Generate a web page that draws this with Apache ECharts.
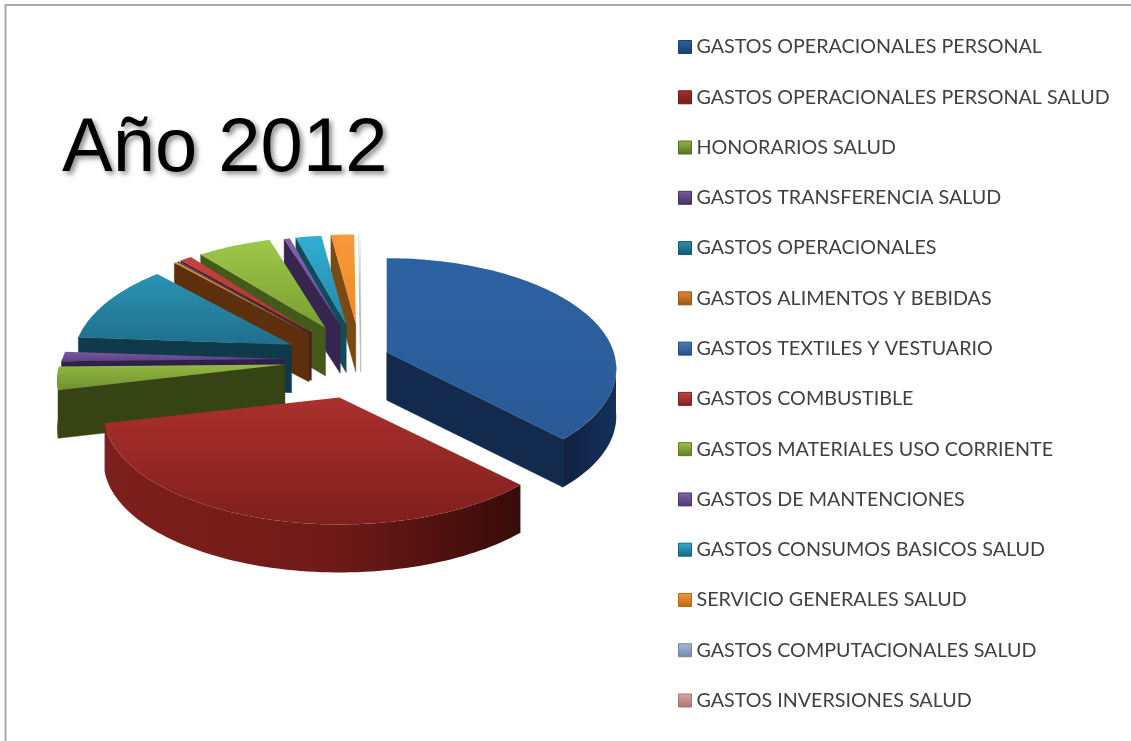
<!DOCTYPE html>
<html><head><meta charset="utf-8">
<style>html,body{margin:0;padding:0;background:#fff}#c{width:1131px;height:741px}</style>
<script src="https://cdn.jsdelivr.net/npm/echarts@6/dist/echarts.min.js"></script>
</head><body><div id="c"></div>
<script>
const categories = ['GASTOS OPERACIONALES PERSONAL','GASTOS OPERACIONALES PERSONAL SALUD','HONORARIOS SALUD','GASTOS TRANSFERENCIA SALUD','GASTOS OPERACIONALES','GASTOS ALIMENTOS Y BEBIDAS','GASTOS TEXTILES Y VESTUARIO','GASTOS COMBUSTIBLE','GASTOS MATERIALES USO CORRIENTE','GASTOS DE MANTENCIONES','GASTOS CONSUMOS BASICOS SALUD','SERVICIO GENERALES SALUD','GASTOS COMPUTACIONALES SALUD','GASTOS INVERSIONES SALUD'];
const values = [37.8,33.5,3.4,1.4,11.8,0.3,0.1,1.0,6.1,0.47,2.1,1.9,0.07,0.06];
const title = 'Año 2012';

const legendLight = ['#2c62a3','#ab302d','#93b942','#7a5aa3','#2b93b3','#e08a35','#4a7ebb','#c8423e','#9fc74a','#8262ad','#33aed2','#f9993c','#a8bbd9','#dca5a4'];
const legendDark  = ['#1c3f6e','#6f1a18','#556f22','#45305f','#15566d','#9c5514','#27507f','#7c2422','#5e7a25','#4e3870','#17667f','#b86614','#7186a8','#a87472'];
const topLight = ['#2c62a3','#ab302d','#93b942','#7a5aa3','#2b93b3','#e08a35','#4a7ebb','#c8423e','#9fc74a','#8262ad','#33aed2','#f9993c','#ffffff','#ffffff'];
const topDark  = ['#2a5a96','#7f1f1c','#6f9030','#5d4180','#1f6f8c','#c97320','#3a6aa3','#a83431','#7a9e31','#6b4d94','#2587a6','#ee8a28','#c4c4c4','#b8b8b8'];
const walls    = ['#122a4c','#6d1a17','#354315','#2f2049','#0f3a4c','#5e2f0c','#1f3a60','#5a1513','#445a1b','#35254f','#0f4c5c','#7a4a12','#b5b5b5','#c0c0c0'];
const explode  = [13,36,36,36,36,36,36,36,36,36,36,36,36,36];
const lift     = [-3,3,0,0,0,0,0,0,0,0,0,0,0,0];
const radiusX  = [227,233,225,222,216,216,216,216,224,225,225,225,225,225];
const radiusY  = [108,108,108,108,108,108,108,108,105,103,103,103,103,103];
const paintOrder = [12,13,11,10,9,8,7,6,5,4,3,2,1,0]; // later = front
const C = {x:361,y:360}, K = 0.149, ASPECT = 2.13, DEPTH = 48;
const total = values.reduce((a,b)=>a+b,0);
const rad = d => d*Math.PI/180;

function startAngle(i){
  let s = 0; for(let j=0;j<i;j++) s += values[j];
  return s/total*360;
}
function renderSlice(i){
  return function(params, api){
    const v = api.value(0);
    const a0 = startAngle(i);
    const a1 = a0 + v/total*360;
    const m = rad((a0+a1)/2), e = explode[i];
    const ax = C.x + e*ASPECT*Math.sin(m), ay = C.y - e*Math.cos(m) + lift[i];
    const rx = radiusX[i], ry = radiusY[i];
    const pt = d => { const t=rad(d), f=1/(1+K*Math.cos(t)); return [ax+rx*Math.sin(t)*f, ay-ry*Math.cos(t)*f]; };
    const arc = (from,to) => { const p=[]; const n=Math.max(1,Math.ceil((to-from)/1.5)); for(let q=0;q<=n;q++) p.push(pt(from+(to-from)*q/n)); return p; };
    const base = paintOrder[i]*10, kids = [];
    const poly = (points, fill, z) => kids.push({type:'polygon',shape:{points},style:{fill,stroke:typeof fill==='string'?fill:null,lineWidth:typeof fill==='string'?0.4:0},z2:base+z,silent:true});
    const down = p => [p[0],p[1]+DEPTH];
    const face = d => { const p=pt(d); poly([[ax,ay],p,down(p),[ax,ay+DEPTH]], walls[i], 0); };
    if(Math.sin(rad(a0))<0) face(a0);
    if(Math.sin(rad(a1))>0) face(a1);
    const w0=Math.max(a0,96), w1=Math.min(a1,270);
    if(w1>w0){
      const top = arc(w0,w1);
      const fill = i===1 ? new echarts.graphic.LinearGradient(0,0,1,0,[{offset:0,color:'#7d1f1c'},{offset:0.55,color:'#701a17'},{offset:1,color:'#370b09'}])
                         : i===0 ? new echarts.graphic.LinearGradient(0,0,1,0,[{offset:0,color:'#0f2340'},{offset:1,color:'#14305a'}])
                         : walls[i];
      poly(top.concat(top.slice().reverse().map(down)), fill, 1);
    }
    const grad = new echarts.graphic.LinearGradient(0,0,0,1,[{offset:0,color:topLight[i]},{offset:1,color:topDark[i]}]);
    poly([[ax,ay]].concat(arc(a0,a1)), grad, 2);
    return {type:'group',children:kids};
  };
}
const chart = echarts.init(document.getElementById('c'),null,{renderer:'canvas'});
chart.setOption({
  animation:false,
  backgroundColor:'#ffffff',
  title:{text:title,left:62,top:108,padding:0,textStyle:{fontFamily:'Liberation Sans',fontSize:76,fontWeight:'normal',color:'#000',lineHeight:84,textShadowColor:'rgba(0,0,0,0.45)',textShadowBlur:5,textShadowOffsetX:3,textShadowOffsetY:3}},
  legend:{orient:'vertical',left:678,top:37,padding:0,itemWidth:13,itemHeight:13,itemGap:30.27,selectedMode:false,icon:'rect',
    data:categories.map((name,i)=>({name,itemStyle:{color:new echarts.graphic.LinearGradient(0,0,0,1,[{offset:0,color:legendLight[i]},{offset:1,color:legendDark[i]}]),borderColor:legendDark[i],borderWidth:1}})),
    textStyle:{fontFamily:'Lato',fontSize:19.7,color:'#404040',lineHeight:20,padding:[0,0,0,0]}},
  graphic:[{type:'polyline',shape:{points:[[5.5,741],[5.5,5],[1131,5]]},style:{stroke:'#a9a9a9',lineWidth:2,fill:null},silent:true}],
  series:categories.map((name,i)=>({type:'custom',name,coordinateSystem:'none',silent:true,data:[[values[i]]],itemStyle:{color:legendLight[i]},renderItem:renderSlice(i)}))
});
</script></body></html>
